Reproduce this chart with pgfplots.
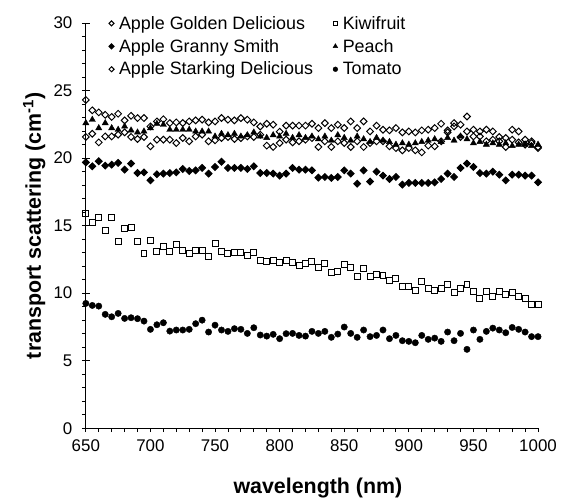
\documentclass[border=0pt]{standalone}
\usepackage{pgfplots}
\pgfplotsset{compat=1.18}
\usepackage{pgfplotstable}
\usepackage{fontspec}
\setmainfont{Liberation Sans}

\pgfplotstableread{
x golden starking granny kiwi peach tomato
650 24.30 21.56 19.68 15.90 22.59 9.24
655 23.53 21.80 19.39 15.25 22.84 9.09
660 23.38 21.16 19.76 15.57 22.22 9.04
665 23.20 21.60 19.44 14.63 22.59 8.43
670 23.04 21.60 19.51 15.57 22.22 8.25
675 23.28 21.73 19.64 13.85 22.10 8.50
680 22.79 21.90 19.14 14.76 22.34 8.13
685 23.13 21.56 19.59 14.88 22.05 8.18
690 22.96 21.41 18.89 13.85 21.90 8.11
695 22.96 21.56 18.94 12.93 21.97 7.93
700 22.34 20.87 18.35 13.90 22.22 7.32
705 22.71 21.36 18.80 13.06 22.54 7.66
710 22.87 21.36 18.85 13.47 22.47 7.81
715 22.59 21.36 18.89 13.06 22.10 7.19
720 22.64 21.11 18.94 13.60 22.10 7.27
725 22.59 21.48 19.19 13.16 22.10 7.27
730 22.71 21.24 19.04 12.91 22.10 7.32
735 22.79 21.60 19.09 13.16 21.97 7.74
740 22.84 21.73 19.27 13.16 21.97 8.00
745 22.64 21.24 18.85 12.74 21.97 7.12
750 22.71 21.31 19.34 13.67 21.60 7.63
755 22.96 21.48 19.73 13.10 21.80 7.27
760 22.84 21.56 19.27 12.93 21.70 7.17
765 22.79 21.41 19.27 13.03 21.80 7.37
770 22.96 21.48 19.27 12.98 21.60 7.32
775 22.84 21.60 19.19 12.79 21.70 7.02
780 22.64 21.56 19.39 12.98 21.90 7.44
785 22.34 21.73 18.89 12.44 21.60 6.90
790 22.54 20.92 18.89 12.37 21.50 6.82
795 22.47 20.82 18.85 12.44 21.70 6.95
800 21.95 21.11 18.70 12.29 21.60 6.63
805 22.40 21.36 18.85 12.44 21.80 7.00
810 22.40 21.16 19.27 12.25 21.50 7.02
815 22.40 21.24 19.14 12.05 21.70 6.87
820 22.40 21.36 19.14 12.19 21.50 6.82
825 22.54 21.48 19.09 12.37 21.60 7.17
830 22.22 20.82 18.55 11.92 21.40 7.02
835 22.59 21.24 18.60 12.19 21.60 7.17
840 22.22 20.82 18.53 11.50 21.30 6.73
845 22.47 21.24 18.60 11.58 21.70 6.97
850 22.22 21.11 19.09 12.12 21.50 7.49
855 22.71 20.82 18.85 11.92 21.30 7.02
860 22.22 21.24 18.10 11.21 21.60 6.73
865 22.71 20.82 19.09 11.80 21.40 7.27
870 21.97 21.11 18.26 11.21 21.20 6.78
875 22.40 21.24 18.99 11.38 21.50 6.87
880 22.10 21.24 18.70 11.31 21.30 7.27
885 22.05 20.87 18.45 10.96 21.20 6.63
890 22.22 20.74 18.60 11.11 21.00 6.87
895 21.90 20.57 18.03 10.47 21.10 6.48
900 21.97 20.74 18.16 10.47 21.00 6.43
905 21.90 20.57 18.16 10.20 21.10 6.33
910 22.05 20.42 18.16 10.89 21.20 6.87
915 22.10 20.92 18.16 10.32 21.30 6.58
920 22.22 20.87 18.20 10.20 21.40 6.67
925 22.54 21.24 18.45 10.32 21.20 6.43
930 22.05 21.90 18.85 10.64 21.50 7.12
935 22.59 22.34 18.60 10.07 21.30 6.48
940 22.47 21.56 19.27 10.32 21.60 7.02
945 23.08 21.97 19.59 10.61 21.40 5.84
950 22.10 21.60 19.34 10.13 21.10 7.27
955 21.97 21.60 18.89 9.58 21.20 6.58
960 22.10 21.24 18.85 10.13 21.00 7.17
965 21.97 21.36 18.99 9.73 21.10 7.41
970 21.56 21.24 18.77 10.13 21.00 7.27
975 21.48 20.82 18.35 9.90 21.10 7.07
980 22.10 21.36 18.77 10.03 20.90 7.46
985 21.97 21.16 18.77 9.73 21.00 7.32
990 21.36 20.99 18.70 9.63 21.00 7.12
995 21.24 21.11 18.70 9.19 20.90 6.78
1000 20.82 20.74 18.20 9.19 21.00 6.78
}\data

\begin{document}
\begin{tikzpicture}
\begin{axis}[
  scale only axis,
  width=453bp, height=406bp,
  xmin=650, xmax=1000, ymin=0, ymax=30,
  axis lines*=left,
  axis line style={line width=1.1pt},
  xtick={650,700,...,1000},
  ytick={0,5,...,30},
  minor x tick num=4,
  minor y tick num=4,
  tick align=outside,
  major tick length=4bp,
  minor tick length=4bp,
  every tick/.style={black, line width=0.9pt},
  extra y ticks={0,5,...,30},
  extra y tick labels={},
  extra y tick style={tick align=inside},
  /pgf/number format/assume math mode=true,
  /pgf/number format/1000 sep={},
  tick label style={font=\fontsize{17}{19}\selectfont},
  xticklabel style={yshift=-4bp},
  yticklabel style={xshift=-6bp},
  every axis x label/.style={at={(axis description cs:0.5,0)},anchor=center,yshift=-60bp,xshift=6bp},
  every axis y label/.style={at={(axis description cs:-0.114,0.5)},rotate=90,anchor=center},
  xlabel={wavelength (nm)},
  ylabel={transport scattering (cm\textsuperscript{-1})},
  label style={font=\fontsize{21.5}{24}\selectfont\bfseries},
  legend columns=2,
  legend cell align=left,
  legend style={draw=none, fill=none, at={([shift={(20bp,11bp)}]rel axis cs:0,1)}, anchor=north west,
    font=\fontsize{18}{21}\selectfont, row sep=4.5bp,
    /tikz/every odd column/.append style={column sep=3bp},
    /tikz/every even column/.append style={column sep=18bp}},
  legend image code/.code={\draw[every mark/.append style={scale=0.75}] plot coordinates {(0.1cm,0cm)};},
]
\addplot[only marks, mark=square, mark size=2.4pt, mark options={rotate=45, fill=white, line width=1pt}] table[x=x,y=golden] {\data};
\addlegendentry{Apple Golden Delicious}
\addplot[only marks, mark=square, mark size=3pt, mark options={fill=white, line width=1pt}] table[x=x,y=kiwi] {\data};
\addlegendentry{Kiwifruit}
\addplot[only marks, mark=square*, mark size=2.4pt, mark options={rotate=45, fill=black, line width=1pt}] table[x=x,y=granny] {\data};
\addlegendentry{Apple Granny Smith}
\addplot[only marks, mark=triangle*, mark size=3.6pt, mark options={fill=black}] table[x=x,y=peach] {\data};
\addlegendentry{Peach}
\addplot[only marks, mark=square, mark size=2.4pt, mark options={rotate=45, fill=white, line width=1pt}] table[x=x,y=starking] {\data};
\addlegendentry{Apple Starking Delicious}
\addplot[only marks, mark=*, mark size=3.2pt, mark options={fill=black}] table[x=x,y=tomato] {\data};
\addlegendentry{Tomato}
\end{axis}
\pgfresetboundingbox
\path ([shift={(-86bp,-71bp)}]current axis.south west) rectangle ([shift={(23bp,23bp)}]current axis.north east);
\end{tikzpicture}
\end{document}
